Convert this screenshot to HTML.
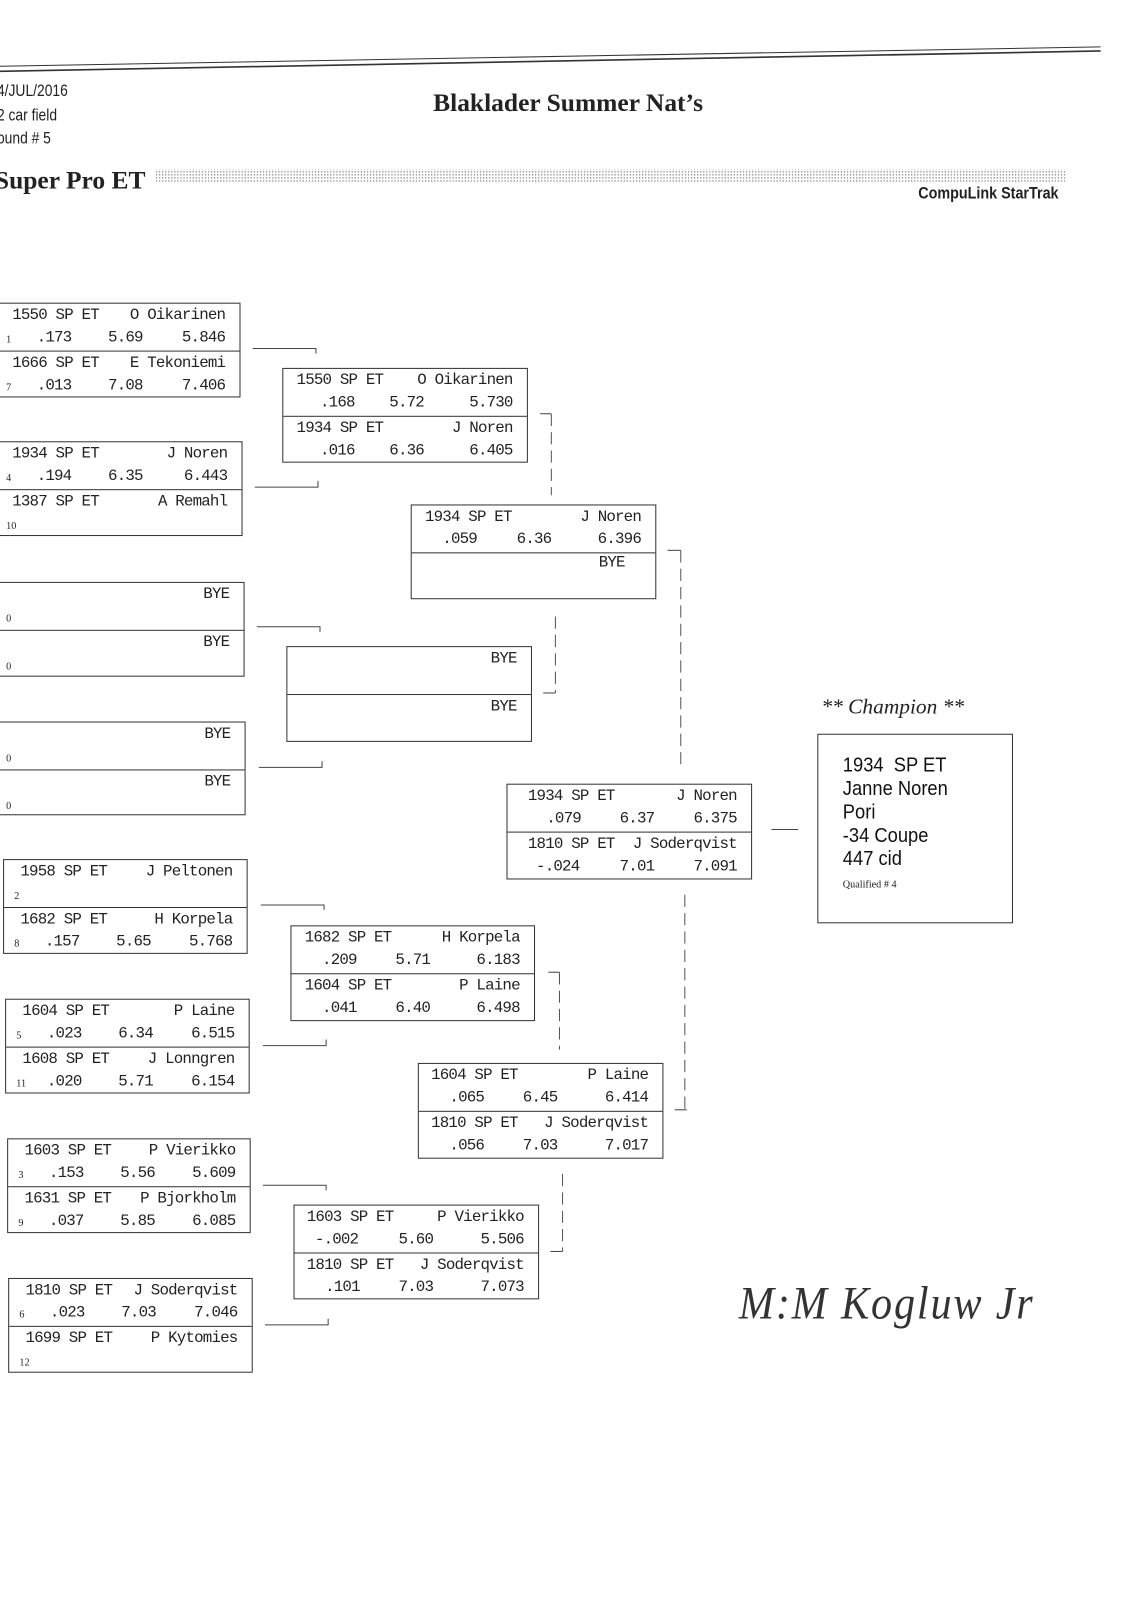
<!DOCTYPE html>
<html><head><meta charset="utf-8">
<style>
html,body{margin:0;padding:0;background:#fff;}
body{width:1121px;height:1600px;position:relative;overflow:hidden;font-family:"Liberation Sans",sans-serif;color:#222;}
#w{position:absolute;left:0;top:0;width:1100px;height:1570px;transform:scale(1.0191);transform-origin:0 0;}
.a{position:absolute;white-space:nowrap;}
.box{position:absolute;border:1.3px solid #333;box-sizing:border-box;background:#fff;}
.slot{position:relative;height:46px;box-sizing:border-box;}
.slot+.slot{border-top:1.3px solid #333;}
.m{position:absolute;font-family:"Liberation Mono",monospace;font-size:15.5px;letter-spacing:-0.8px;color:#222;white-space:nowrap;}
.car{left:16px;top:2px;}
.nm{right:14px;top:2px;}
.rt{left:40px;top:24px;}
.et{left:110px;top:24px;}
.tm{right:14px;top:24px;}
.sd{position:absolute;left:10px;top:30px;font-family:"Liberation Serif",serif;font-size:10px;}
.hd{font-family:"Liberation Sans",sans-serif;font-size:16px;transform:scaleX(0.85);transform-origin:left;}
</style></head><body><div id="w">

<svg class="a" style="left:0;top:0" width="1100" height="1570">
<line x1="0" y1="70" x2="1080" y2="50" stroke="#333" stroke-width="1.6"/>
<line x1="0" y1="65" x2="1080" y2="46" stroke="#333" stroke-width="1"/>
<defs><pattern id="dp" width="3" height="3" patternUnits="userSpaceOnUse"><rect width="1.2" height="1.2" fill="#777"/></pattern></defs>
<rect x="152" y="166" width="893" height="13" fill="url(#dp)"/>
<g stroke="#444" stroke-width="1" fill="none">
<polyline points="248,342 310,342 310,347"/>
<polyline points="250,478 312,478 312,472"/>
<polyline points="252,615 314,615 314,620"/>
<polyline points="254,753 316,753 316,747"/>
<polyline points="256,888 318,888 318,893"/>
<polyline points="258,1026 320,1026 320,1020"/>
<polyline points="258,1163 320,1163 320,1168"/>
<polyline points="260,1300 322,1300 322,1294"/>
<polyline points="530,406 541,406"/>
<polyline points="533,680 545,680"/>
<polyline points="538,954 549,954"/>
<polyline points="540,1228 552,1228"/>
<polyline points="655,540 668,540"/>
<polyline points="662,1089 674,1089"/>
<line x1="757" y1="814" x2="783" y2="814"/>
</g>
<g stroke="#555" stroke-width="1" stroke-dasharray="12,6" fill="none">
<line x1="541" y1="406" x2="541" y2="486"/>
<line x1="545" y1="605" x2="545" y2="680"/>
<line x1="668" y1="540" x2="668" y2="755"/>
<line x1="549" y1="954" x2="549" y2="1030"/>
<line x1="672" y1="878" x2="672" y2="1089"/>
<line x1="552" y1="1152" x2="552" y2="1228"/>
</g>
</svg>

<div class="a hd" style="left:-3px;top:81px">4/JUL/2016</div>
<div class="a hd" style="left:-3px;top:105px">2 car field</div>
<div class="a hd" style="left:-3px;top:128px">ound # 5</div>
<div class="a" style="left:425px;top:88px;font-family:'Liberation Serif',serif;font-weight:bold;font-size:25px;">Blaklader Summer Nat’s</div>
<div class="a" style="left:-5px;top:164px;font-family:'Liberation Serif',serif;font-weight:bold;font-size:25px;">Super Pro ET</div>
<div class="a" style="left:901px;top:182px;font-weight:bold;font-size:16px;transform:scaleX(0.88);transform-origin:left;">CompuLink StarTrak</div>

<!-- R1 -->
<div class="box" style="left:-5px;top:297px;width:241px;height:93px">
<div class="slot"><span class="m car">1550 SP ET</span><span class="m nm">O Oikarinen</span><span class="sd">1</span><span class="m rt">.173</span><span class="m et">5.69</span><span class="m tm">5.846</span></div>
<div class="slot"><span class="m car">1666 SP ET</span><span class="m nm">E Tekoniemi</span><span class="sd">7</span><span class="m rt">.013</span><span class="m et">7.08</span><span class="m tm">7.406</span></div>
</div>
<div class="box" style="left:-5px;top:433px;width:243px;height:93px">
<div class="slot"><span class="m car">1934 SP ET</span><span class="m nm">J Noren</span><span class="sd">4</span><span class="m rt">.194</span><span class="m et">6.35</span><span class="m tm">6.443</span></div>
<div class="slot"><span class="m car">1387 SP ET</span><span class="m nm">A Remahl</span><span class="sd">10</span></div>
</div>
<div class="box" style="left:-5px;top:571px;width:245px;height:93px">
<div class="slot"><span class="m nm">BYE</span><span class="sd">0</span></div>
<div class="slot"><span class="m nm">BYE</span><span class="sd">0</span></div>
</div>
<div class="box" style="left:-5px;top:708px;width:246px;height:92px">
<div class="slot"><span class="m nm">BYE</span><span class="sd">0</span></div>
<div class="slot"><span class="m nm">BYE</span><span class="sd">0</span></div>
</div>
<div class="box" style="left:3px;top:843px;width:240px;height:93px">
<div class="slot"><span class="m car">1958 SP ET</span><span class="m nm">J Peltonen</span><span class="sd">2</span></div>
<div class="slot"><span class="m car">1682 SP ET</span><span class="m nm">H Korpela</span><span class="sd">8</span><span class="m rt">.157</span><span class="m et">5.65</span><span class="m tm">5.768</span></div>
</div>
<div class="box" style="left:5px;top:980px;width:240px;height:93px">
<div class="slot"><span class="m car">1604 SP ET</span><span class="m nm">P Laine</span><span class="sd">5</span><span class="m rt">.023</span><span class="m et">6.34</span><span class="m tm">6.515</span></div>
<div class="slot"><span class="m car">1608 SP ET</span><span class="m nm">J Lonngren</span><span class="sd">11</span><span class="m rt">.020</span><span class="m et">5.71</span><span class="m tm">6.154</span></div>
</div>
<div class="box" style="left:7px;top:1117px;width:239px;height:93px">
<div class="slot"><span class="m car">1603 SP ET</span><span class="m nm">P Vierikko</span><span class="sd">3</span><span class="m rt">.153</span><span class="m et">5.56</span><span class="m tm">5.609</span></div>
<div class="slot"><span class="m car">1631 SP ET</span><span class="m nm">P Bjorkholm</span><span class="sd">9</span><span class="m rt">.037</span><span class="m et">5.85</span><span class="m tm">6.085</span></div>
</div>
<div class="box" style="left:8px;top:1254px;width:240px;height:93px">
<div class="slot"><span class="m car">1810 SP ET</span><span class="m nm">J Soderqvist</span><span class="sd">6</span><span class="m rt">.023</span><span class="m et">7.03</span><span class="m tm">7.046</span></div>
<div class="slot"><span class="m car">1699 SP ET</span><span class="m nm">P Kytomies</span><span class="sd">12</span></div>
</div>

<!-- R2 -->
<div class="box" style="left:277px;top:361px;width:241px;height:93px">
<div class="slot"><span class="m car" style="left:13px">1550 SP ET</span><span class="m nm">O Oikarinen</span><span class="m rt" style="left:36px">.168</span><span class="m et" style="left:104px">5.72</span><span class="m tm">5.730</span></div>
<div class="slot"><span class="m car" style="left:13px">1934 SP ET</span><span class="m nm">J Noren</span><span class="m rt" style="left:36px">.016</span><span class="m et" style="left:104px">6.36</span><span class="m tm">6.405</span></div>
</div>
<div class="box" style="left:281px;top:634px;width:241px;height:94px">
<div class="slot"><span class="m nm">BYE</span></div>
<div class="slot"><span class="m nm">BYE</span></div>
</div>
<div class="box" style="left:285px;top:908px;width:240px;height:94px">
<div class="slot"><span class="m car" style="left:13px">1682 SP ET</span><span class="m nm">H Korpela</span><span class="m rt" style="left:30px">.209</span><span class="m et" style="left:102px">5.71</span><span class="m tm">6.183</span></div>
<div class="slot"><span class="m car" style="left:13px">1604 SP ET</span><span class="m nm">P Laine</span><span class="m rt" style="left:30px">.041</span><span class="m et" style="left:102px">6.40</span><span class="m tm">6.498</span></div>
</div>
<div class="box" style="left:288px;top:1182px;width:241px;height:93px">
<div class="slot"><span class="m car" style="left:12px">1603 SP ET</span><span class="m nm">P Vierikko</span><span class="m rt" style="left:20px">-.002</span><span class="m et" style="left:102px">5.60</span><span class="m tm">5.506</span></div>
<div class="slot"><span class="m car" style="left:12px">1810 SP ET</span><span class="m nm">J Soderqvist</span><span class="m rt" style="left:30px">.101</span><span class="m et" style="left:102px">7.03</span><span class="m tm">7.073</span></div>
</div>

<!-- R3 -->
<div class="box" style="left:403px;top:495px;width:241px;height:93px">
<div class="slot"><span class="m car" style="left:13px">1934 SP ET</span><span class="m nm">J Noren</span><span class="m rt" style="left:30px">.059</span><span class="m et" style="left:103px">6.36</span><span class="m tm">6.396</span></div>
<div class="slot"><span class="m nm" style="top:0;right:30px">BYE</span></div>
</div>
<div class="box" style="left:410px;top:1043px;width:241px;height:94px">
<div class="slot"><span class="m car" style="left:12px">1604 SP ET</span><span class="m nm">P Laine</span><span class="m rt" style="left:30px">.065</span><span class="m et" style="left:102px">6.45</span><span class="m tm">6.414</span></div>
<div class="slot"><span class="m car" style="left:12px">1810 SP ET</span><span class="m nm">J Soderqvist</span><span class="m rt" style="left:30px">.056</span><span class="m et" style="left:102px">7.03</span><span class="m tm">7.017</span></div>
</div>

<!-- R4 -->
<div class="box" style="left:497px;top:769px;width:241px;height:94px">
<div class="slot"><span class="m car" style="left:20px">1934 SP ET</span><span class="m nm">J Noren</span><span class="m rt" style="left:38px">.079</span><span class="m et" style="left:110px">6.37</span><span class="m tm">6.375</span></div>
<div class="slot"><span class="m car" style="left:20px">1810 SP ET</span><span class="m nm">J Soderqvist</span><span class="m rt" style="left:28px">-.024</span><span class="m et" style="left:110px">7.01</span><span class="m tm">7.091</span></div>
</div>

<!-- Champion -->
<div class="a" style="left:806px;top:681px;font-family:'Liberation Serif',serif;font-style:italic;font-size:21px;">** Champion **</div>
<div class="box" style="left:802px;top:720px;width:192px;height:186px;">
<div class="a" style="left:24px;top:19px;font-size:20px;line-height:23px;transform:scaleX(0.9);transform-origin:left;color:#111">1934&nbsp; SP ET<br>Janne Noren<br>Pori<br>-34 Coupe<br>447 cid</div>
<div class="a" style="left:24px;top:142px;font-family:'Liberation Serif',serif;font-size:10px;">Qualified # 4</div>
</div>

<div class="a" style="left:725px;top:1252px;font-family:'Liberation Serif',serif;font-style:italic;font-size:46px;color:#333;letter-spacing:2px;transform:scaleX(0.9);transform-origin:left;">M:M Kogluw Jr</div>
</div></body></html>
